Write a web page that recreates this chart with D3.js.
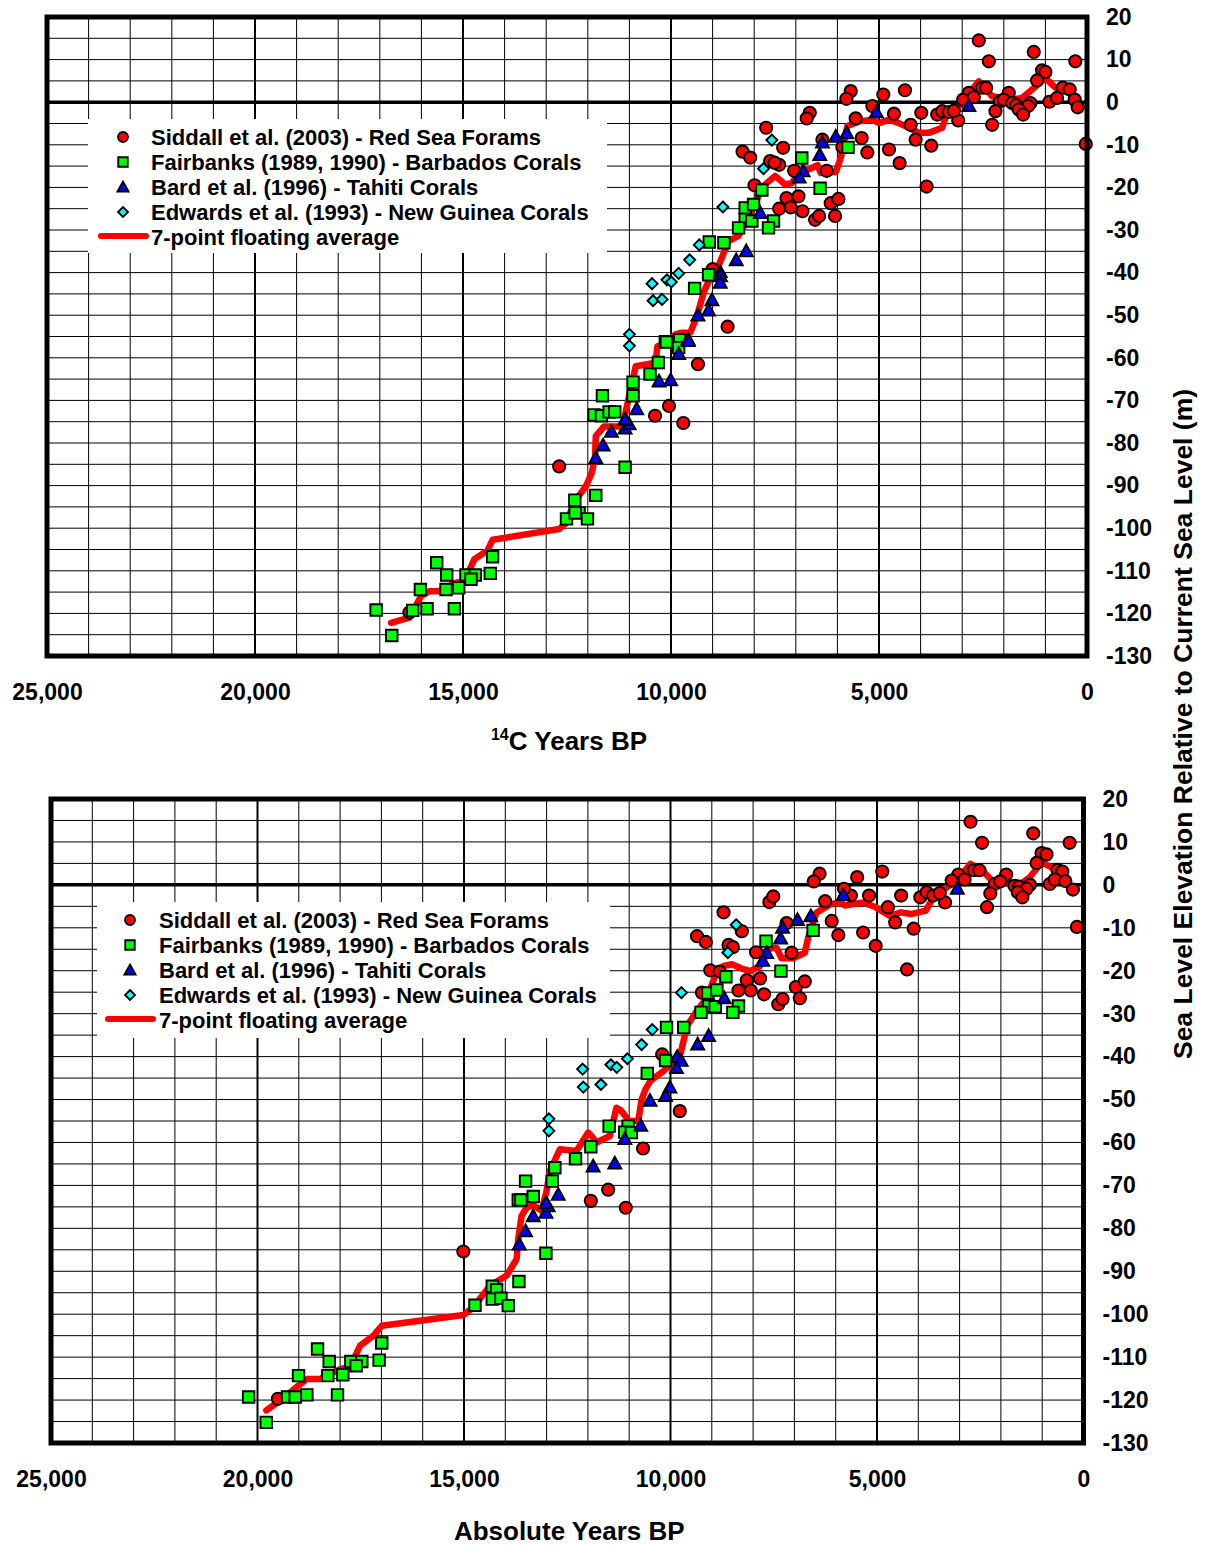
<!DOCTYPE html>
<html>
<head>
<meta charset="utf-8">
<script src="https://cdn.jsdelivr.net/npm/d3@7"></script>
<style>
  html, body { margin: 0; padding: 0; background: #fff; }
  svg text { font-family: "Liberation Sans", Arial, Helvetica, sans-serif; font-weight: bold; fill: #000; }
</style>
</head>
<body>
<svg id="chart" width="1208" height="1545"></svg>
<script>
// ---------- data: [years BP, sea level (m)] ----------
// Radiocarbon-age panel
const siddallC14 = [[2600,14.5],[2360,9.6],[1280,11.8],[280,9.6],[1080,7.5],[1000,7.1],[1200,5.1],[2520,3.4],[2424,3.4],[584,3.4],[416,3.0],[1880,2.2],[2840,2.2],[2976,0.6],[2720,1.2],[2096,0.2],[2000,0.6],[1800,-0.2],[1704,-0.7],[1360,-0.2],[1416,-0.9],[1640,-1.7],[1536,-2.9],[904,0.1],[720,1.0],[296,0.6],[224,-1.2],[2200,-2.1],[2280,-5.3],[3096,-4.3],[3600,-2.9],[3480,-2.1],[3320,-2.3],[3200,-2.0],[3984,-2.5],[4240,-5.3],[4120,-8.8],[3744,-10.2],[3856,-19.8],[4376,2.8],[4896,1.8],[4640,-2.7],[5160,-0.9],[4760,-11.1],[4504,-14.3],[5280,-11.8],[5416,-8.4],[5560,-3.8],[5680,2.6],[5784,0.8],[6664,-2.5],[6736,-3.8],[6360,-8.8],[7304,-10.7],[6256,-16.1],[7040,-16.1],[7224,-22.5],[6936,-22.1],[7400,-25],[7120,-24.7],[6840,-25.6],[6160,-23.7],[5976,-22.7],[6536,-27.6],[6440,-26.7],[6056,-26.7],[30,-9.8],[7400,-14.7],[5880,-10.5],[7712,-6.0],[8280,-11.6],[8096,-13.0],[7616,-13.8],[7512,-14.2],[7992,-19.5],[9000,-39.2],[8640,-52.7],[9352,-61.5],[16288,-119.8],[12688,-85.5],[10384,-73.6],[10048,-71.3],[9704,-75.3]];
const fairbanksC14 = [[5744,-10.6],[6856,-13.1],[6416,-20.2],[7816,-20.6],[8216,-24.8],[8016,-24.0],[8216,-27.5],[8056,-27.9],[8376,-29.5],[7536,-27.9],[7656,-29.5],[9080,-32.8],[8728,-33.0],[9096,-40.5],[9432,-43.7],[10136,-56.2],[9792,-55.8],[9816,-57.6],[17088,-119.2],[16712,-125.2],[16208,-119.3],[15864,-118.9],[15208,-118.9],[16024,-114.4],[15408,-114.4],[15104,-114],[15632,-108.1],[15392,-111],[14928,-111],[14704,-111],[14808,-112],[14344,-110.6],[14288,-106.7],[12512,-97.8],[12312,-93.4],[12208,-96.4],[12304,-96.4],[12008,-97.8],[11808,-92.3],[11104,-85.7],[11648,-68.9],[11848,-73.4],[11672,-73.6],[11488,-72.7],[11352,-72.7],[10912,-68.9],[10912,-65.7],[10504,-63.8],[10304,-61.1],[10112,-56.3]];
const bardC14 = [[2840,-0.8],[5064,-2.3],[6040,-8.0],[5776,-7.2],[6360,-9.4],[6424,-12.3],[6824,-16.1],[6920,-17.6],[7856,-25.9],[8192,-34.9],[8432,-37.0],[8816,-39.8],[8808,-40.8],[8816,-42.3],[9016,-46.4],[9096,-48.8],[9352,-50],[9592,-55.6],[9816,-59],[11808,-83.5],[11632,-80.5],[11432,-77.3],[11104,-76.5],[11008,-75.5],[11104,-74.4],[10824,-72],[10288,-65.5],[10008,-65.2],[9584,-56]];
const edwardsC14 = [[7576,-8.9],[7776,-15.6],[8752,-24.6],[9320,-33.5],[9552,-37.0],[9816,-40.2],[10096,-41.7],[9992,-42.2],[10456,-42.6],[10432,-46.6],[10216,-46.3],[11000,-54.5],[11000,-57.2]];
const averageC14 = [[16728,-122.2],[16288,-121],[16008,-115.9],[15808,-114.8],[15568,-114.8],[15168,-112.8],[14968,-112.4],[14728,-107.3],[14408,-105.2],[14288,-102.7],[12688,-100.2],[12528,-98.8],[12288,-93.3],[12048,-90.2],[11904,-87],[11824,-83.1],[11808,-78.4],[11608,-76.1],[11408,-76.1],[11168,-76.1],[11008,-69.1],[10848,-62],[10568,-61.5],[10368,-61.1],[10328,-57.3],[10128,-56.6],[9888,-54.5],[9736,-54.1],[9536,-54.1],[9376,-50.2],[9216,-44.7],[9096,-42],[8856,-38.4],[8696,-34.5],[8616,-32.6],[8376,-31.4],[8096,-26.3],[7896,-22],[7736,-19.3],[7496,-17.3],[7256,-19.3],[7096,-19.0],[6936,-16.8],[6696,-15.8],[6480,-14.8],[6400,-16.6],[6040,-16.4],[5920,-13.1],[5760,-5.6],[5480,-4.5],[5160,-4.1],[5000,-4.9],[4760,-4.1],[4520,-4.9],[4280,-6.0],[4040,-7.2],[3800,-7.2],[3480,-6.0],[3360,-2.5],[3080,-0.9],[2920,1.0],[2600,4.9],[2280,1.4],[2040,1.0],[1800,0.6],[1560,1.0],[1320,3.0],[1000,5.7],[760,3.4],[440,2.6]];

// Calendar-age panel
const siddallCal = [[2736,14.7],[2456,9.8],[1216,12.0],[336,9.8],[1016,7.4],[896,7.1],[1136,5.1],[2656,3.4],[2520,3.4],[632,3.5],[512,3.1],[3032,2.4],[2880,1.25],[3192,1.0],[1872,2.4],[2152,0.2],[2016,0.8],[1672,-0.2],[1560,-0.4],[1296,0],[1376,-0.9],[1592,-1.7],[1480,-2.9],[816,0.2],[696,1.25],[440,0.9],[256,-1.1],[2256,-2.0],[2336,-5.2],[3352,-4.1],[3952,-2.9],[3800,-1.7],[3640,-2.5],[3480,-1.9],[4416,-2.5],[4736,-5.2],[4560,-8.75],[4112,-10.2],[4272,-19.7],[4872,3.1],[5480,1.8],[5192,-2.5],[5632,-2.5],[5336,-11.1],[5032,-14.2],[5936,-11.7],[6096,-8.4],[6256,-3.8],[6390,2.6],[6531,0.8],[5800,-0.9],[160,-9.8],[7607,-4.0],[7511,-2.7],[8715,-6.4],[8273,-10.8],[9358,-11.95],[9145,-13.3],[8594,-14.0],[8490,-14.5],[7928,-15.7],[7069,-15.8],[7189,-8.9],[9037,-19.9],[8811,-20.2],[8153,-22.2],[7832,-21.8],[8354,-24.6],[8057,-24.6],[7735,-25.5],[6965,-23.8],[6748,-22.5],[6868,-26.4],[7390,-27.8],[7286,-26.6],[9237,-25.1],[10201,-39.5],[9775,-52.7],[19506,-119.7],[15016,-85.4],[11929,-73.6],[11510,-71],[11083,-75.2],[10664,-61.4]];
const fairbanksCal = [[6547,-10.6],[7687,-13.1],[7326,-20.1],[8659,-21.4],[9093,-25.2],[8876,-24.5],[9076,-28.2],[8916,-28.4],[8354,-28.2],[9261,-29.7],[8490,-29.7],[10096,-33.2],[9679,-33.2],[10120,-40.9],[10562,-43.9],[20215,-119.3],[19788,-125.2],[19272,-119.3],[19087,-119.3],[18804,-118.8],[18063,-118.8],[19006,-114.3],[18297,-114.3],[17934,-114.1],[18546,-108.1],[18264,-111],[17740,-111],[17474,-111],[17611,-112],[17055,-110.7],[16991,-106.7],[14734,-97.9],[14315,-93.5],[14210,-94.3],[14315,-96.5],[14105,-96.3],[13928,-98],[13670,-92.4],[13017,-85.8],[13509,-69],[13686,-73.4],[13622,-73.4],[13324,-72.6],[12864,-69],[12800,-65.9],[12300,-63.8],[11929,-61.0],[11486,-56.2],[11027,-56.2],[11107,-57.6],[10946,-57.7]];
const bardCal = [[5816,-2.3],[3056,-0.8],[6603,-7.2],[6925,-8.1],[7286,-9.9],[7334,-12.4],[7671,-15.8],[7768,-17.6],[8699,-26.3],[9077,-35.1],[9342,-37.1],[9839,-40],[9743,-40.9],[9855,-42.6],[10016,-47.1],[10120,-49.1],[10498,-50.2],[10723,-56],[13662,-83.7],[13509,-80.6],[13324,-77.1],[13017,-76.3],[12961,-74.8],[13017,-74],[12719,-72.1],[11873,-65.5],[11349,-64.8],[11107,-59.1]];
const edwardsCal = [[8410,-9.3],[8611,-15.8],[9735,-25.1],[10442,-33.7],[10699,-37.2],[11044,-40.5],[11445,-41.9],[11301,-42.5],[12128,-42.9],[12112,-47.1],[11686,-46.5],[12945,-54.5],[12945,-57.3]];
const averageCal = [[19788,-122.4],[19449,-120.1],[19006,-116.6],[18804,-115.1],[18482,-115.1],[18000,-112.8],[17757,-112.2],[17514,-107.3],[17192,-105],[16991,-102.7],[15016,-100.2],[14774,-98.4],[14371,-93.4],[13968,-91],[13727,-87.2],[13686,-82.5],[13606,-77.1],[13485,-75.2],[13324,-74.6],[13122,-75.9],[13001,-71.3],[12920,-66.6],[12679,-61.6],[12276,-62],[11994,-57.7],[11913,-58.5],[11792,-60],[11470,-58.5],[11309,-51.9],[11205,-52.5],[11000,-55],[10780,-55],[10700,-50],[10600,-47.5],[10482,-45.6],[10160,-43.3],[9920,-41],[9759,-39.4],[9598,-32.8],[9357,-29.3],[9117,-26.3],[8996,-23.2],[8876,-20.1],[8715,-18.9],[8514,-18.5],[8273,-19.5],[8073,-20.1],[7832,-18.9],[7591,-14.7],[7430,-14.7],[7310,-17.1],[7029,-17.1],[6748,-15.8],[6667,-12.3],[6467,-6.5],[6145,-4.6],[5904,-4.0],[5776,-4.8],[5336,-4.1],[5056,-5.1],[4696,-7.2],[4416,-6.4],[4176,-6.8],[3816,-6.0],[3616,-2.5],[3296,-0.5],[3032,1.4],[2736,4.9],[2456,3.4],[2216,1.0],[1896,0.6],[1576,-0.2],[1296,1.8],[1016,5.3],[776,4.1],[456,3.0]];

// axis ticks and labels
const yearTicks = [25000, 20000, 15000, 10000, 5000, 0];
const levelTicks = [20, 10, 0, -10, -20, -30, -40, -50, -60, -70, -80, -90, -100, -110, -120, -130];
const legendLabels = [
  "Siddall et al. (2003) - Red Sea Forams",
  "Fairbanks (1989, 1990) - Barbados Corals",
  "Bard et al. (1996) - Tahiti Corals",
  "Edwards et al. (1993) - New Guinea Corals",
  "7-point floating average"
];

// ---------- drawing ----------
const svg = d3.select("#chart");
const fmtYear = d => d === 0 ? "0" : d3.format(",")(d);
const fmtLevel = d => String(d);   // plain hyphen-minus

const symbols = {
  circle: s => { const r = s / 2; return `M${-r},0A${r},${r} 0 1,0 ${r},0A${r},${r} 0 1,0 ${-r},0Z`; },
  square: s => { const h = s / 2; return `M${-h},${-h}H${h}V${h}H${-h}Z`; },
  triangle: s => { const h = s / 2; return `M0,${-h - 0.5}L${h + 0.6},${h - 0.5}L${-h - 0.6},${h - 0.5}Z`; },
  diamond: s => { const h = s / 2; return `M0,${-h}L${h},0L0,${h}L${-h},0Z`; }
};
const seriesStyle = [
  { shape: "circle",   size: 12.3, legend: 10,  fill: "#ff0000" },
  { shape: "square",   size: 11.5, legend: 9.5, fill: "#00ff00" },
  { shape: "triangle", size: 11.8, legend: 10,  fill: "#0000ff" },
  { shape: "diamond",  size: 11,   legend: 10,  fill: "#00ffff" }
];

function drawPanel(opt) {
  const g = svg.append("g");
  const x = d3.scaleLinear().domain([25000, 0]).range([opt.left, opt.right]);
  const y = d3.scaleLinear().domain([-130, 20]).range([opt.bottom, opt.top]);

  // grid
  const grid = g.append("g");
  grid.selectAll("line.v").data(d3.range(1000, 25000, 1000)).join("line")
    .attr("x1", d => x(d)).attr("x2", d => x(d))
    .attr("y1", opt.top).attr("y2", opt.bottom)
    .attr("stroke", "#000").attr("stroke-width", d => d % 5000 === 0 ? 2 : 1);
  grid.selectAll("line.h").data(d3.range(-125, 20, 5)).join("line")
    .attr("x1", opt.left).attr("x2", opt.right)
    .attr("y1", d => y(d)).attr("y2", d => y(d))
    .attr("stroke", "#000").attr("stroke-width", d => d === 0 ? 3.5 : 1);

  // floating average
  g.append("path").datum(opt.average)
    .attr("d", d3.line().x(d => x(d[0])).y(d => y(d[1])))
    .attr("fill", "none").attr("stroke", "#ff0000").attr("stroke-width", 6.5)
    .attr("stroke-linejoin", "round").attr("stroke-linecap", "round");

  // point series
  opt.series.forEach((pts, i) => {
    const st = seriesStyle[i];
    g.append("g").selectAll("path").data(pts).join("path")
      .attr("transform", d => `translate(${x(d[0])},${y(d[1])})`)
      .attr("d", symbols[st.shape](st.size))
      .attr("fill", st.fill).attr("stroke", "#000").attr("stroke-width", 1.9);
  });

  // legend
  const lg = g.append("g");
  lg.append("rect").attr("x", opt.legend.x).attr("y", opt.legend.y)
    .attr("width", opt.legend.w).attr("height", opt.legend.h).attr("fill", "#fff");
  legendLabels.forEach((label, i) => {
    const cy = opt.legend.y + 18 + i * 25;
    if (i < 4) {
      const st = seriesStyle[i];
      lg.append("path").attr("transform", `translate(${opt.legend.mx},${cy})`)
        .attr("d", symbols[st.shape](st.legend))
        .attr("fill", st.fill).attr("stroke", "#000").attr("stroke-width", 1.8);
    } else {
      lg.append("line").attr("x1", opt.legend.mx - 22).attr("x2", opt.legend.mx + 23)
        .attr("y1", cy - 1).attr("y2", cy - 1)
        .attr("stroke", "#ff0000").attr("stroke-width", 6).attr("stroke-linecap", "round");
    }
    lg.append("text").attr("x", opt.legend.tx).attr("y", cy).attr("dy", "0.36em")
      .attr("font-size", 22).text(label);
  });

  // frame
  g.append("rect").attr("x", opt.left).attr("y", opt.top)
    .attr("width", opt.right - opt.left).attr("height", opt.bottom - opt.top)
    .attr("fill", "none").attr("stroke", "#000").attr("stroke-width", 5);

  // axes
  const xa = g.append("g").attr("transform", `translate(0,${opt.bottom})`)
    .call(d3.axisBottom(x).tickValues(yearTicks).tickFormat(fmtYear).tickSize(0).tickPadding(28));
  xa.select(".domain").remove();
  xa.selectAll("text").attr("font-size", 23).attr("font-family", null);

  const ya = g.append("g").attr("transform", `translate(${opt.right + 19},0)`)
    .call(d3.axisRight(y).tickValues(levelTicks).tickFormat(fmtLevel).tickSize(0).tickPadding(0));
  ya.select(".domain").remove();
  ya.selectAll("text").attr("font-size", 23).attr("font-family", null);

  // x title
  const t = g.append("text").attr("x", (opt.left + opt.right) / 2 + 2).attr("y", opt.titleY)
    .attr("text-anchor", "middle").attr("font-size", 26);
  if (opt.superscript) {
    t.append("tspan").attr("font-size", 16).attr("dy", "-0.6em").text(opt.superscript);
    t.append("tspan").attr("dy", "0.38em").text(opt.title);
  } else {
    t.text(opt.title);
  }
}

drawPanel({
  left: 47, right: 1087, top: 17, bottom: 656,
  series: [siddallC14, fairbanksC14, bardC14, edwardsC14],
  average: averageC14,
  legend: { x: 88, y: 119, w: 519, h: 134, mx: 123, tx: 151 },
  title: "C Years BP", superscript: "14", titleY: 750
});

drawPanel({
  left: 51, right: 1083.5, top: 799, bottom: 1443,
  series: [siddallCal, fairbanksCal, bardCal, edwardsCal],
  average: averageCal,
  legend: { x: 97, y: 902, w: 513, h: 136, mx: 130, tx: 159 },
  title: "Absolute Years BP", titleY: 1540
});

// shared y title
svg.append("text").attr("transform", "translate(1192,724) rotate(-90)")
  .attr("text-anchor", "middle").attr("font-size", 26.5)
  .text("Sea Level Elevation Relative to Current Sea Level (m)");
</script>
</body>
</html>
